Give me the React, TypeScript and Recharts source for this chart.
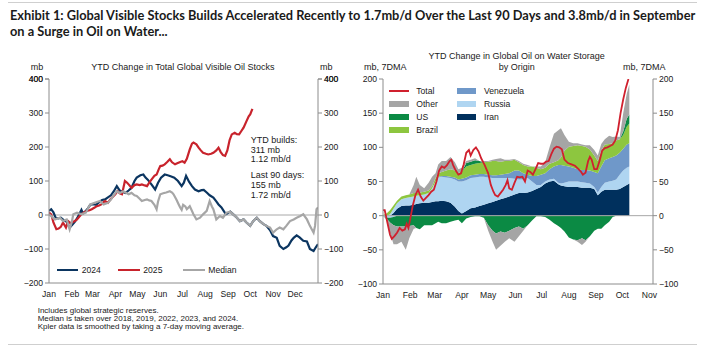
import React from 'react';
import { ComposedChart, Line, Area, XAxis, YAxis, ReferenceLine } from 'recharts';

// month starts as day-of-year
const MONTHS = ['Jan', 'Feb', 'Mar', 'Apr', 'May', 'Jun', 'Jul', 'Aug', 'Sep', 'Oct', 'Nov', 'Dec'];
const MONTH_START = [0, 31, 59, 90, 120, 151, 181, 212, 243, 273, 304, 334];

// ---- left panel: YTD change in total global visible oil stocks (mb)
const LEFT_TICKS = [-200, -100, 0, 100, 200, 300, 400];
const LEFT_MAX = 400;

const Y2024_DAYS = [0, 3, 6, 9, 13, 16, 20, 24, 28, 31, 35, 38, 41, 44, 46, 49, 53, 56, 60, 64, 68, 72, 76, 80, 84, 88, 92, 96, 100, 104, 108, 112, 116, 119, 124, 128, 131, 134, 139, 144, 148, 152, 157, 161, 165, 170, 175, 180, 183, 186, 190, 194, 198, 203, 207, 210, 214, 218, 223, 227, 230, 234, 237, 240, 246, 250, 255, 259, 264, 268, 273, 277, 282, 286, 291, 295, 300, 304, 309, 313, 318, 322, 325, 329, 332, 336, 340, 345, 350, 354, 359, 362, 365];
const Y2024 = [12, 17, 8, -8, -10, -8, -15, -20, -37, -30, -20, -10, 2, 15, 5, 10, 20, 30, 32, 30, 38, 44, 46, 52, 58, 70, 85, 72, 68, 65, 72, 80, 100, 110, 117, 119, 110, 104, 90, 75, 95, 110, 119, 117, 114, 110, 100, 85, 95, 115, 98, 85, 75, 70, 73, 74, 66, 58, 51, 40, 31, 22, 12, 2, 10, 2, -8, -18, -13, -22, -32, -18, -8, -18, -27, -32, -45, -62, -67, -91, -100, -95, -90, -75, -67, -60, -66, -76, -78, -100, -106, -95, -86];

const Y2025_DAYS = [0, 3, 6, 10, 13, 16, 19, 23, 26, 29, 31, 35, 38, 41, 44, 48, 51, 55, 58, 62, 65, 68, 71, 74, 76, 80, 83, 86, 90, 93, 96, 99, 101, 103, 106, 108, 112, 116, 119, 123, 126, 130, 133, 136, 139, 143, 146, 149, 151, 154, 157, 160, 164, 167, 171, 174, 178, 181, 184, 187, 191, 194, 196, 200, 203, 206, 209, 213, 216, 220, 223, 227, 230, 233, 236, 239, 242, 245, 248, 252, 255, 258, 261, 264, 268, 271, 273, 276];
const Y2025 = [7, 2, -22, -42, -40, -35, -22, -37, -18, -24, -22, -18, -13, -5, 2, 8, 12, 14, 17, 22, 26, 28, 31, 38, 41, 36, 45, 52, 61, 70, 64, 61, 80, 100, 95, 90, 80, 88, 90, 88, 90, 87, 85, 95, 104, 115, 119, 135, 144, 145, 149, 155, 164, 155, 149, 152, 156, 158, 154, 165, 193, 210, 213, 208, 198, 190, 183, 180, 178, 180, 183, 190, 198, 185, 176, 174, 190, 220, 237, 242, 238, 237, 247, 257, 276, 290, 296, 312];

const MEDIAN_DAYS = [0, 4, 8, 12, 15, 19, 24, 28, 31, 33, 38, 44, 50, 53, 56, 62, 69, 74, 80, 84, 87, 92, 96, 101, 108, 112, 116, 119, 123, 126, 130, 133, 136, 139, 143, 146, 148, 151, 155, 159, 164, 167, 169, 173, 176, 178, 180, 182, 185, 187, 191, 196, 200, 205, 209, 214, 218, 221, 223, 227, 232, 236, 241, 246, 250, 255, 259, 264, 268, 273, 277, 282, 286, 291, 295, 300, 304, 309, 313, 318, 322, 327, 332, 336, 341, 345, 350, 354, 359, 361, 363, 365];
const MEDIAN = [2, -5, -13, -10, -8, -18, -13, -42, -20, 2, 7, 2, 7, 20, 31, 36, 41, 31, 36, 45, 56, 70, 65, 70, 61, 65, 58, 56, 48, 41, 44, 46, 43, 41, 30, 17, 40, 61, 64, 66, 70, 66, 61, 45, 31, 22, 15, 30, 25, 17, 26, 2, -13, -8, 2, 12, 41, 25, 17, -13, -3, -8, 7, 10, 2, -8, -18, -13, -22, -32, -18, -8, -18, -27, -32, -37, -52, -42, -37, -42, -32, -18, -13, -8, -3, 2, -13, -32, -52, -32, 17, 22];

// ---- right panel: YTD change in oil on water by origin (mb, 7DMA)
const RIGHT_TICKS = [-100, -50, 0, 50, 100, 150, 200];

const STACK_DAYS = [0, 4, 8, 12, 16, 21, 26, 30, 35, 38, 42, 47, 52, 56, 60, 63, 67, 72, 77, 82, 86, 90, 95, 100, 105, 110, 115, 120, 125, 129, 134, 139, 144, 150, 155, 160, 165, 170, 175, 180, 185, 190, 195, 200, 203, 207, 212, 217, 222, 227, 231, 236, 241, 245, 249, 253, 258, 262, 266, 270, 274, 278, 281];
const IRAN = [0, 0, 0, 4, 10, 14, 15, 15, 16, 17, 18, 19, 19, 20, 21, 21, 22, 21, 19, 13, 7, 3, 7, 11, 12, 14, 16, 18, 20, 22, 24, 26, 28, 31, 33, 33, 34, 36, 39, 42, 47, 50, 51, 46, 44, 43, 42, 42, 42, 41, 41, 41, 39, 30, 35, 38, 38, 38, 38, 39, 42, 45, 47];
const RUSSIA = [0, 0, 2, 6, 8, 10, 11, 12, 12, 12, 12, 12, 14, 20, 29, 35, 35, 35, 36, 40, 43, 47, 45, 44, 44, 43, 41, 38, 35, 33, 31, 29, 27, 23, 20, 20, 21, 14, 6, 3, 3, 3, 3, 2, 3, 5, 8, 8, 8, 8, 7, 6, 3, 4, 7, 10, 12, 13, 15, 21, 24, 25, 25];
const VENEZUELA = [0, 0, 0, 0, 0, 0, 0, 0, 0, 0, 0, 0, 0, 0, 0, 1, 1, 2, 2, 3, 3, 4, 4, 4, 4, 4, 4, 4, 4, 4, 5, 6, 7, 12, 13, 9, 5, 8, 13, 15, 12, 15, 18, 26, 27, 25, 22, 20, 18, 18, 19, 19, 22, 28, 30, 33, 34, 35, 35, 32, 32, 34, 34];
const BRAZIL = [1, 3, 6, 5, 4, 4, 4, 4, 5, 4, 4, 4, 4, 3, 5, 5, 6, 8, 11, 10, 9, 11, 16, 15, 16, 16, 17, 19, 21, 21, 19, 19, 18, 16, 12, 12, 12, 14, 12, 8, 8, 8, 6, 7, 11, 22, 29, 32, 35, 35, 34, 31, 24, 18, 23, 23, 21, 20, 22, 20, 20, 26, 29];
const US_POS = [0, 0, 0, 0, 0, 0, 0, 0, 0, 0, 0, 0, 0, 0, 0, 0, 0, 0, 0, 0, 0, 0, 5, 5, 5, 3, 0, 0, 0, 0, 0, 0, 0, 0, 0, 0, 0, 0, 0, 0, 0, 0, 0, 0, 0, 0, 0, 0, 0, 0, 0, 0, 0, 0, 0, 0, 0, 0, 0, 0, 5, 12, 13];
const OTHER_POS = [0, 0, 0, 0, 0, 0, 0, 0, 12, 24, 11, 5, 11, 14, 7, 13, 16, 14, 18, 12, 6, 5, 3, 3, 3, 0, 2, 1, 2, 3, 5, 2, 2, 1, 2, 2, 2, 0, 2, 4, 8, 24, 42, 44, 43, 23, 7, 4, 3, 2, 2, 6, 8, 8, 10, 8, 12, 9, 6, 3, 27, 36, 44];
const RUSSIA_NEG = [0, -3, -3, -2, 0, 0, 0, 0, 0, 0, 0, 0, 0, 0, 0, 0, 0, 0, 0, 0, 0, 0, 0, 0, 0, 0, 0, 0, 0, 0, 0, 0, 0, 0, 0, 0, 0, 0, 0, 0, 0, 0, 0, 0, 0, 0, 0, 0, 0, 0, 0, 0, 0, 0, 0, 0, 0, 0, 0, 0, 0, 0, 0];
const US_NEG = [0, -1, -7, -12, -16, -16, -16, -15, -14, -18, -20, -14, -14, -14, -11, -9, -11, -11, -9, -7, -6, -11, -4, -2, -1, -1, -3, -14, -22, -26, -23, -25, -22, -18, -16, -19, -14, -7, -1, -1, -2, -6, -11, -15, -18, -23, -32, -35, -36, -33, -36, -30, -22, -19, -19, -14, -9, -2, 0, 0, 0, 0, 0];
const OTHER_NEG = [0, -2, -15, -28, -26, -22, -34, -18, -5, 0, 0, 0, 0, 0, 0, 0, 0, 0, 0, 0, 0, 0, 0, 0, 0, 0, 0, -8, -16, -24, -21, -13, -11, -20, -14, -3, 0, 0, 0, 0, 0, 0, 0, 0, 0, 0, 0, 0, -2, -10, -2, 0, 0, 0, 0, 0, 0, 0, 0, 0, 0, 0, 0];

const TOTAL_DAYS = [0, 2, 5, 8, 10, 13, 16, 19, 22, 25, 27, 29, 31, 34, 37, 40, 43, 46, 49, 52, 55, 58, 61, 64, 67, 70, 73, 76, 78, 80, 83, 86, 89, 92, 95, 98, 100, 103, 106, 109, 112, 116, 120, 123, 126, 128, 131, 134, 137, 140, 142, 144, 147, 150, 153, 156, 159, 162, 165, 168, 171, 174, 177, 180, 183, 186, 189, 192, 195, 198, 201, 204, 207, 211, 215, 219, 223, 226, 228, 231, 234, 236, 238, 241, 244, 247, 250, 253, 256, 259, 262, 265, 268, 271, 274, 277, 280];
const TOTAL = [8, 8, -10, -28, -34, -30, -25, -18, -22, -20, -12, -18, -5, 15, 30, 38, 28, 22, 26, 30, 35, 38, 50, 66, 72, 70, 74, 80, 82, 74, 66, 60, 62, 75, 92, 96, 88, 96, 100, 94, 84, 74, 62, 45, 35, 30, 28, 33, 38, 45, 52, 40, 38, 48, 57, 56, 57, 50, 66, 64, 60, 68, 77, 76, 76, 79, 80, 90, 98, 101, 100, 97, 82, 77, 75, 73, 68, 64, 60, 63, 80, 86, 82, 68, 68, 80, 95, 99, 100, 102, 104, 110, 125, 150, 170, 187, 200];

const C = {
  y2024: '#0b3560',
  y2025: '#c8232c',
  median: '#a6a6a6',
  total: '#d0202e',
  other: '#a5a5a5',
  us: '#0b8a44',
  brazil: '#8dc63f',
  venezuela: '#6f98c9',
  russia: '#afd5f1',
  iran: '#00305d',
};

const AXIS = '#8c8c8c';
const FONT = '"Liberation Sans", Arial, sans-serif';
const TICK = { fontSize: 8.6, fill: '#1a1a1a', fontFamily: FONT };

const minus = (v: number) => {
  const r = Math.round(v);
  return r < 0 ? '\u2212' + Math.abs(r) : String(r);
};
const monthLabel = (v: number) => MONTHS[MONTH_START.indexOf(v)] ?? '';

// merge the three left series onto one day grid (gaps bridged with connectNulls)
const leftDays = Array.from(new Set([...Y2024_DAYS, ...Y2025_DAYS, ...MEDIAN_DAYS])).sort((a, b) => a - b);
const leftRows = leftDays.map((d) => {
  const a = Y2024_DAYS.indexOf(d);
  const b = Y2025_DAYS.indexOf(d);
  const m = MEDIAN_DAYS.indexOf(d);
  return {
    d,
    y2024: a >= 0 ? Y2024[a] : null,
    y2025: b >= 0 ? Y2025[b] : null,
    median: m >= 0 ? MEDIAN[m] : null,
  };
});

const rightDays = Array.from(new Set([...STACK_DAYS, ...TOTAL_DAYS])).sort((a, b) => a - b);
const rightRows = rightDays.map((d) => {
  const i = STACK_DAYS.indexOf(d);
  const t = TOTAL_DAYS.indexOf(d);
  return {
    d,
    iran: i >= 0 ? IRAN[i] : null,
    russia: i >= 0 ? RUSSIA[i] : null,
    venezuela: i >= 0 ? VENEZUELA[i] : null,
    brazil: i >= 0 ? BRAZIL[i] : null,
    usPos: i >= 0 ? US_POS[i] : null,
    otherPos: i >= 0 ? OTHER_POS[i] : null,
    russiaNeg: i >= 0 ? RUSSIA_NEG[i] : null,
    usNeg: i >= 0 ? US_NEG[i] : null,
    otherNeg: i >= 0 ? OTHER_NEG[i] : null,
    total: t >= 0 ? TOTAL[t] : null,
  };
});

const txt = (extra: React.CSSProperties): React.CSSProperties => ({
  position: 'absolute',
  fontFamily: FONT,
  fontSize: 9,
  color: '#1a1a1a',
  whiteSpace: 'nowrap',
  ...extra,
});

function LeftPanel() {
  const yProps = {
    type: 'number' as const,
    domain: [-200, 400],
    ticks: LEFT_TICKS,
    interval: 0,
    allowDataOverflow: true,
    tickSize: 4,
    tick: TICK,
    tickFormatter: minus,
    axisLine: { stroke: AXIS },
    tickLine: { stroke: AXIS },
  };
  // the top tick gets dropped by the axis, so it is labelled through a reference line
  const tickDays = 4 / (269 / 365);
  return (
    <div style={{ position: 'absolute', left: 0, top: 0 }}>
      <ComposedChart width={360} height={310} data={leftRows} margin={{ top: 79, right: 0, bottom: 0, left: 0 }}>
        <XAxis
          type="number"
          dataKey="d"
          domain={[0, 365]}
          ticks={MONTH_START}
          interval={0}
          tickFormatter={monthLabel}
          tick={TICK}
          tickLine={false}
          axisLine={{ stroke: AXIS }}
          height={27}
          allowDataOverflow
        />
        <YAxis yAxisId="l" width={49} {...yProps} />
        <YAxis yAxisId="r" orientation="right" width={42} {...yProps} />
        <ReferenceLine yAxisId="l" y={0} stroke="#a8a8a8" />
        <ReferenceLine yAxisId="l" y={LEFT_MAX} stroke="none" ifOverflow="visible"
          label={{ value: String(LEFT_MAX), position: 'left', offset: 6, ...TICK }} />
        <ReferenceLine yAxisId="l" y={LEFT_MAX} stroke="none" ifOverflow="visible"
          label={{ value: String(LEFT_MAX), position: 'right', offset: 6, ...TICK }} />
        <ReferenceLine yAxisId="l" ifOverflow="visible" stroke={AXIS}
          segment={[{ x: -tickDays, y: LEFT_MAX }, { x: 0, y: LEFT_MAX }]} />
        <ReferenceLine yAxisId="l" ifOverflow="visible" stroke={AXIS}
          segment={[{ x: 365, y: LEFT_MAX }, { x: 365 + tickDays, y: LEFT_MAX }]} />
        <Line yAxisId="l" dataKey="y2024" type="linear" stroke={C.y2024} connectNulls
          strokeWidth={2.2} dot={false} isAnimationActive={false} />
        <Line yAxisId="l" dataKey="y2025" type="linear" stroke={C.y2025} connectNulls
          strokeWidth={2.2} dot={false} isAnimationActive={false} />
        <Line yAxisId="l" dataKey="median" type="linear" stroke={C.median} connectNulls
          strokeWidth={2.2} dot={false} isAnimationActive={false} />
      </ComposedChart>
    </div>
  );
}

function RightPanel() {
  const area = (key: string, stackId: string, fill: string) => (
    <Area yAxisId="l" stackId={stackId} dataKey={key} type="linear" stroke="none" fill={fill}
      fillOpacity={1} connectNulls isAnimationActive={false} />
  );
  return (
    <div style={{ position: 'absolute', left: 330, top: 0 }}>
      <ComposedChart width={370} height={310} data={rightRows} margin={{ top: 79, right: 0, bottom: 0, left: 0 }}>
        <XAxis
          type="number"
          dataKey="d"
          domain={[0, 308]}
          ticks={MONTH_START.slice(0, 11)}
          interval={0}
          tickFormatter={monthLabel}
          tick={TICK}
          tickLine={false}
          axisLine={{ stroke: AXIS }}
          height={26}
          allowDataOverflow
        />
        <YAxis yAxisId="l" type="number" domain={[-100, 200]} ticks={RIGHT_TICKS} interval={0} width={53} allowDataOverflow
          tickSize={4} tick={TICK} tickFormatter={minus} axisLine={{ stroke: AXIS }} tickLine={{ stroke: AXIS }} />
        <YAxis yAxisId="r" orientation="right" type="number" domain={[-100, 200]} ticks={RIGHT_TICKS} interval={0} width={47} allowDataOverflow
          tickSize={4} tick={TICK} tickFormatter={minus} axisLine={{ stroke: AXIS }} tickLine={{ stroke: AXIS }} />
        <ReferenceLine yAxisId="l" y={0} stroke="#a8a8a8" />
        {area('iran', 'pos', C.iran)}
        {area('russia', 'pos', C.russia)}
        {area('venezuela', 'pos', C.venezuela)}
        {area('brazil', 'pos', C.brazil)}
        {area('usPos', 'pos', C.us)}
        {area('otherPos', 'pos', C.other)}
        {area('russiaNeg', 'neg', C.russia)}
        {area('usNeg', 'neg', C.us)}
        {area('otherNeg', 'neg', C.other)}
        <Line yAxisId="l" dataKey="total" type="linear" stroke={C.total} connectNulls
          strokeWidth={1.8} dot={false} isAnimationActive={false} />
      </ComposedChart>
    </div>
  );
}

const LEFT_LEGEND = [
  { name: '2024', color: C.y2024, x: 56.7 },
  { name: '2025', color: C.y2025, x: 118.3 },
  { name: 'Median', color: C.median, x: 183.3 },
];

const RIGHT_LEGEND = [
  { name: 'Total', color: C.total, line: true, x: 389, y: 91 },
  { name: 'Other', color: C.other, x: 389, y: 104 },
  { name: 'US', color: C.us, x: 389, y: 117 },
  { name: 'Brazil', color: C.brazil, x: 389, y: 130 },
  { name: 'Venezuela', color: C.venezuela, x: 456.7, y: 91 },
  { name: 'Russia', color: C.russia, x: 456.7, y: 104 },
  { name: 'Iran', color: C.iran, x: 456.7, y: 117 },
];

export default function App() {
  return (
    <div style={{ position: 'absolute', left: 0, top: 0, width: 705, height: 352, background: '#fff', overflow: 'hidden' }}>
      <div style={{ position: 'absolute', left: 8, top: 2, width: 689, height: 1, background: '#cfcfcf' }} />
      <div style={{ position: 'absolute', left: 10, top: 7, fontFamily: 'Lato, "Open Sans", sans-serif', fontWeight: 700,
        fontSize: 12.8, lineHeight: '16px', color: '#1a1a1a', whiteSpace: 'nowrap' }}>
        <div>Exhibit 1: Global Visible Stocks Builds Accelerated Recently to 1.7mb/d Over the Last 90 Days and 3.8mb/d in September</div>
        <div>on a Surge in Oil on Water...</div>
      </div>

      <LeftPanel />
      <RightPanel />

      {/* left panel texts */}
      <div style={txt({ left: 33, width: 300, top: 61.5, lineHeight: '11px', textAlign: 'center' })}>
        YTD Change in Total Global Visible Oil Stocks
      </div>
      <div style={txt({ left: 30.7, top: 61.5, lineHeight: '11px' })}>mb</div>
      <div style={txt({ left: 320, top: 61.5, lineHeight: '11px' })}>mb</div>
      <div style={txt({ left: 250.7, top: 135.9, lineHeight: '9.7px' })}>
        <div>YTD builds:</div>
        <div>311 mb</div>
        <div>1.12 mb/d</div>
      </div>
      <div style={txt({ left: 250.7, top: 171.2, lineHeight: '9.7px' })}>
        <div>Last 90 days:</div>
        <div>155 mb</div>
        <div>1.72 mb/d</div>
      </div>
      {LEFT_LEGEND.map((it) => (
        <React.Fragment key={it.name}>
          <div style={{ position: 'absolute', left: it.x, top: 268.6, width: 21.6, height: 2.8, background: it.color }} />
          <div style={txt({ left: it.x + 25, top: 264.5, lineHeight: '11px', fontSize: 8.6 })}>{it.name}</div>
        </React.Fragment>
      ))}
      <div style={txt({ left: 37.7, top: 306.9, lineHeight: '8.3px', fontSize: 8 })}>
        <div>Includes global strategic reserves.</div>
        <div>Median is taken over 2018, 2019, 2022, 2023, and 2024.</div>
        <div>Kpler data is smoothed by taking a 7-day moving average.</div>
      </div>

      {/* right panel texts */}
      <div style={txt({ left: 366.7, width: 300, top: 51.4, lineHeight: '10.6px', textAlign: 'center' })}>
        <div>YTD Change in Global Oil on Water Storage</div>
        <div>by Origin</div>
      </div>
      <div style={txt({ left: 364, top: 62, lineHeight: '10.6px' })}>mb, 7DMA</div>
      <div style={txt({ left: 623, top: 62, lineHeight: '10.6px' })}>mb, 7DMA</div>
      {RIGHT_LEGEND.map((it) => (
        <React.Fragment key={it.name}>
          {it.line ? (
            <div style={{ position: 'absolute', left: it.x, top: it.y - 1, width: 20, height: 2, background: it.color }} />
          ) : (
            <div style={{ position: 'absolute', left: it.x, top: it.y - 3.2, width: 19.5, height: 6.4, background: it.color }} />
          )}
          <div style={txt({ left: it.x + 27.3, top: it.y - 5.5, lineHeight: '11px', fontSize: 8.6 })}>{it.name}</div>
        </React.Fragment>
      ))}

      <div style={{ position: 'absolute', left: 8, top: 344, width: 689, height: 1, background: '#cfcfcf' }} />
    </div>
  );
}
